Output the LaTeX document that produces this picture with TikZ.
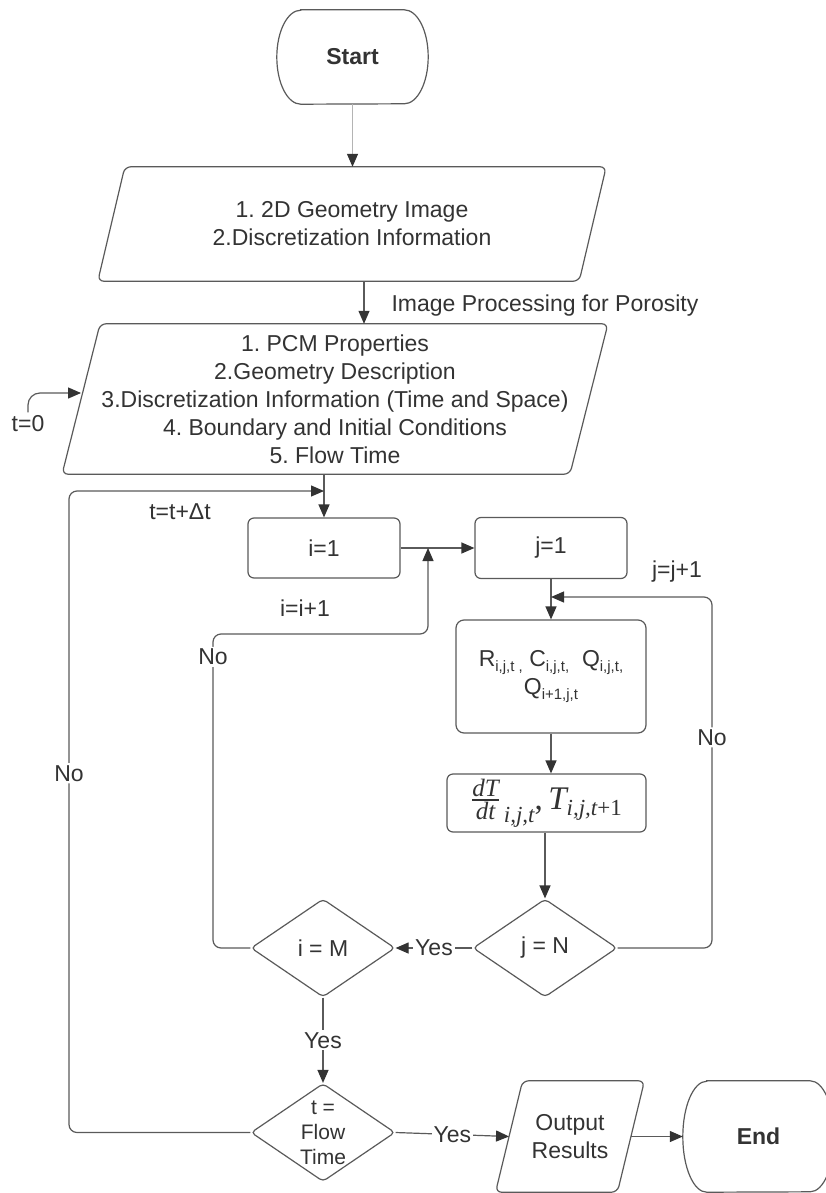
\documentclass[tikz,border=0pt]{standalone}
\usepackage{amsmath}
\usepackage{fontspec}
\setmainfont{Liberation Sans}
\newfontfamily\tms{Liberation Serif}
\usetikzlibrary{arrows.meta,shapes.geometric}
\frenchspacing
\definecolor{ink}{HTML}{333333}
\definecolor{edge}{HTML}{5A5A5A}
\definecolor{faint}{HTML}{B4B4B4}
\newcommand\fsz[1]{\fontsize{#1}{#1}\selectfont}
\newcommand\sbs[1]{\raisebox{-5pt}{\fsz{15}#1}}
% stadium outline around a placeholder node: name, vertical radius
\newcommand\termframe[2]{%
  \draw[frame] ([xshift=24pt]#1.north west) -- ([xshift=-24pt]#1.north east)
    arc[start angle=90,end angle=-90,x radius=24pt,y radius=#2]
    -- ([xshift=24pt]#1.south west)
    arc[start angle=270,end angle=90,x radius=24pt,y radius=#2] -- cycle;}
% slanted data box around a placeholder node: name, half slant
\newcommand\paraframe[2]{%
  \draw[frame,rounded corners=6pt] ([xshift=#2]#1.north west) -- ([xshift=#2]#1.north east)
    -- ([xshift=-#2]#1.south east) -- ([xshift=-#2]#1.south west) -- cycle;}
\begin{document}
\begin{tikzpicture}[x=1pt,y=-1pt,
  font=\fontsize{23}{28}\selectfont, text=ink,
  frame/.style={draw=edge, line width=1.2pt},
  holder/.style={rectangle, inner sep=0pt, align=center},
  box/.style={rectangle, draw=edge, line width=1.2pt, rounded corners=6pt, inner sep=0pt, align=center},
  dec/.style={diamond, draw=edge, line width=1.2pt, rounded corners=4pt,
              minimum width=144pt, minimum height=98pt, inner sep=0pt},
  link/.style={draw=edge, line width=1.2pt, -{Triangle[length=13pt,width=11pt,color=ink]}},
  tag/.style={fill=white, inner sep=2pt, text=ink}]

\fill[white] (0,0) rectangle (826,1193);
\useasboundingbox (0,0) rectangle (826,1193);

% terminals and data boxes
\node[holder, minimum width=151pt, minimum height=94pt, font=\fontsize{23}{28}\selectfont\bfseries] (start) at (352.5,57) {Start};
\termframe{start}{47pt}

\node[holder, minimum width=481pt, minimum height=114pt] (geo) at (352,224)
  {1. 2D Geometry Image\\2.Discretization Information};
\paraframe{geo}{13.5pt}

\node[holder, minimum width=507.5pt, minimum height=150pt] (inp) at (335,399)
  {1. PCM Properties\\2.Geometry Description\\3.Discretization Information (Time and Space)\\4. Boundary and Initial Conditions\\5. Flow Time};
\paraframe{inp}{19pt}

\node[holder, minimum width=121.5pt, minimum height=111pt] (res) at (570,1136.5) {Output\\Results};
\paraframe{res}{13.5pt}

\node[holder, minimum width=151pt, minimum height=111pt, font=\fontsize{23}{28}\selectfont\bfseries] (fin) at (758.5,1136.5) {End};
\termframe{fin}{55.5pt}

% process boxes
\node[box, minimum width=152pt, minimum height=60pt] (ione) at (324,548) {i=1};
\node[box, minimum width=152pt, minimum height=61pt] (jone) at (551,548) {j=1};
\node[box, minimum width=190pt, minimum height=113pt, rounded corners=8pt] (rc) at (551,676.5)
  {R\sbs{i,j,t ,} C\sbs{i,j,t,}\ \ Q\sbs{i,j,t,}\\Q\sbs{i+1,j,t}};
\node[box, minimum width=199pt, minimum height=58pt] (dt) at (546.5,803)
  {\tms\itshape\raisebox{3pt}{$\genfrac{}{}{1.3pt}{}{\mbox{\tms\itshape\fsz{25}dT}}{\mbox{\tms\itshape\fsz{25}dt}}$}%
   \raisebox{-13pt}{\fsz{23}\,i,j,t}{\fsz{33}\upshape,\,\itshape T}\raisebox{-6pt}{\fsz{23}i,j,t\upshape+1}};

% decisions
\node[dec] (jn) at (545,948) {};
\node[dec] (im) at (323,948) {};
\node[dec] (tf) at (323,1132.5) {};
\node (jnt) at (jn) {j = N};
\node (imt) at (im) {i = M};
\node[align=center, font=\fontsize{21}{25}\selectfont] (tft) at (tf) {t =\\Flow\\Time};

% free labels
\node[anchor=west] (imgproc) at (388,306) {Image Processing for Porosity};
\node (tzero) at (28,424) {t=0};
\node (tstep) at (180,512) {t=t+Δt};
\node (iinc) at (305,608) {i=i+1};
\node (jinc) at (677,572) {j=j+1};

% junction points on existing lines
\coordinate (tjoin) at (324,491);
\coordinate (ijoin) at (428,548);
\coordinate (jjoin) at (551,597);

% connectors
\draw[link, draw=faint] (start.south) -- (start.south |- geo.north);
\draw[link] ([xshift=12pt]geo.south) -- ([xshift=12pt]geo.south |- inp.north);
\draw[link, rounded corners=12pt] (tzero.north) |- ([yshift=6pt]inp.west);
\draw[link] (inp.south -| ione.north) -- (ione.north);
\draw[link, rounded corners=8pt] (tf.west) -- (69,1132.5) -- node[tag,pos=0.56]{No} (69,491) -- (tjoin);
\draw[link] (ione.east) -- (jone.west);
\draw[link, rounded corners=8pt] (im.west) -- (213,948) -- node[tag,pos=0.927]{No} (213,634) -- (428,634) -- (ijoin);
\draw[link] (jone.south) -- (rc.north);
\draw[link, rounded corners=8pt] (jn.east) -- (712,948) -- node[tag,pos=0.6]{No} (712,597) -- (jjoin);
\draw[link] (rc.south) -- (rc.south |- dt.north);
\draw[link] (jn.north |- dt.south) -- (jn.north);
\draw[link] (jn.west) -- node[tag]{Yes} (im.east);
\draw[link] (im.south) -- node[tag]{Yes} (tf.north);
\draw[link] (tf.east) -- node[tag]{Yes} (res.west);
\draw[link] (res.east) -- (fin.west);
\end{tikzpicture}
\end{document}
